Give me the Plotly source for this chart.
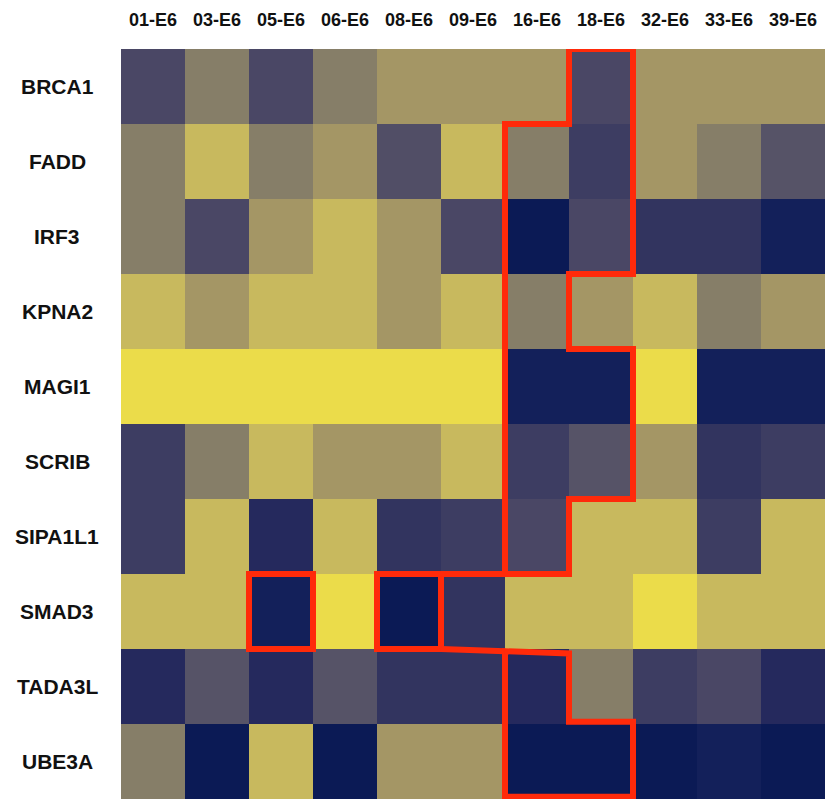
import plotly.graph_objects as go

# Samples (columns) and genes (rows)
samples = ["01-E6", "03-E6", "05-E6", "06-E6", "08-E6", "09-E6",
           "16-E6", "18-E6", "32-E6", "33-E6", "39-E6"]
genes = ["BRCA1", "FADD", "IRF3", "KPNA2", "MAGI1",
         "SCRIB", "SIPA1L1", "SMAD3", "TADA3L", "UBE3A"]

# Relative scores per gene (row) and sample (column), 0 = low, 1 = high
brca1 = [0.38, 0.62, 0.38, 0.62, 0.74, 0.74, 0.74, 0.38, 0.74, 0.74, 0.74]
fadd = [0.62, 0.86, 0.62, 0.74, 0.42, 0.86, 0.62, 0.30, 0.74, 0.62, 0.45]
irf3 = [0.62, 0.38, 0.74, 0.86, 0.74, 0.38, 0.00, 0.38, 0.22, 0.22, 0.05]
kpna2 = [0.86, 0.74, 0.86, 0.86, 0.74, 0.86, 0.62, 0.74, 0.86, 0.62, 0.74]
magi1 = [1.00, 1.00, 1.00, 1.00, 1.00, 1.00, 0.05, 0.05, 1.00, 0.05, 0.05]
scrib = [0.30, 0.62, 0.86, 0.74, 0.74, 0.86, 0.30, 0.45, 0.74, 0.22, 0.30]
sipa1l1 = [0.30, 0.86, 0.14, 0.86, 0.22, 0.30, 0.38, 0.86, 0.86, 0.30, 0.86]
smad3 = [0.86, 0.86, 0.05, 1.00, 0.00, 0.22, 0.86, 0.86, 1.00, 0.86, 0.86]
tada3l = [0.14, 0.45, 0.14, 0.45, 0.22, 0.22, 0.14, 0.62, 0.30, 0.38, 0.14]
ube3a = [0.62, 0.00, 0.86, 0.00, 0.74, 0.74, 0.00, 0.00, 0.00, 0.05, 0.00]

scores = [brca1, fadd, irf3, kpna2, magi1, scrib, sipa1l1, smad3, tada3l, ube3a]

# Navy -> slate -> grey -> khaki -> yellow palette
palette = [
    [0.00, "#0b1a55"],
    [0.05, "#13205a"],
    [0.14, "#25295d"],
    [0.22, "#32345f"],
    [0.30, "#3d3d62"],
    [0.38, "#4a4765"],
    [0.45, "#565367"],
    [0.62, "#867e68"],
    [0.74, "#a49665"],
    [0.86, "#c8b95e"],
    [1.00, "#ebdc4a"],
]

# Highlight outlines, as cell-edge vertices (column, row)
outline_upper = [(6.5, -0.5), (7.5, -0.5), (7.5, 2.5), (6.5, 2.5), (6.5, 3.5),
                 (7.5, 3.5), (7.5, 5.5), (6.5, 5.5), (6.5, 6.5), (5.5, 6.5),
                 (5.5, 0.5), (6.5, 0.5)]
outline_box_a = [(1.5, 6.5), (2.5, 6.5), (2.5, 7.5), (1.5, 7.5)]
outline_box_b = [(3.5, 6.5), (4.5, 6.5), (4.5, 7.5), (3.5, 7.5)]
outline_lower = [(5.5, 7.53), (6.5, 7.56), (6.5, 8.47), (7.5, 8.47),
                 (7.5, 9.47), (5.5, 9.47)]
open_links = [
    [(4.5, 6.5), (5.5, 6.5)],
    [(4.5, 7.5), (5.5, 7.53)],
]

fig = go.Figure()
fig.add_trace(go.Heatmap(
    z=scores,
    x=list(range(len(samples))),
    y=list(range(len(genes))),
    colorscale=palette,
    zmin=0, zmax=1,
    showscale=False,
    hoverinfo="skip",
))


def to_path(points, closed):
    d = "M " + " L ".join(f"{x},{y}" for x, y in points)
    return d + (" Z" if closed else "")


red = "#ff2a0a"
for pts, closed in [(outline_upper, True), (outline_box_a, True),
                    (outline_box_b, True), (outline_lower, True)] + \
        [(seg, False) for seg in open_links]:
    fig.add_shape(type="path", path=to_path(pts, closed), xref="x", yref="y",
                  line=dict(color=red, width=6), layer="above")

label_font = dict(family="Liberation Sans, Arial, sans-serif", size=21,
                  color="#111111", weight="bold")
for i, g in enumerate(genes):
    fig.add_annotation(x=-0.0909, y=i, xref="paper", yref="y", text=g,
                       showarrow=False, xanchor="center", yanchor="middle",
                       font=label_font)

fig.update_xaxes(
    tickvals=list(range(len(samples))), ticktext=samples, side="top",
    range=[-0.5, len(samples) - 0.5], showgrid=False, zeroline=False,
    ticks="", ticklabelstandoff=18,
    tickfont=dict(family="Liberation Sans, Arial, sans-serif", size=18,
                  color="#111111", weight="bold"),
)
fig.update_yaxes(
    range=[len(genes) - 0.5, -0.5], showticklabels=False, showgrid=False,
    zeroline=False, ticks="",
)
fig.update_layout(
    width=828, height=803,
    margin=dict(l=121, r=3, t=49, b=4),
    paper_bgcolor="white", plot_bgcolor="white",
)

fig.write_html("out.html")
